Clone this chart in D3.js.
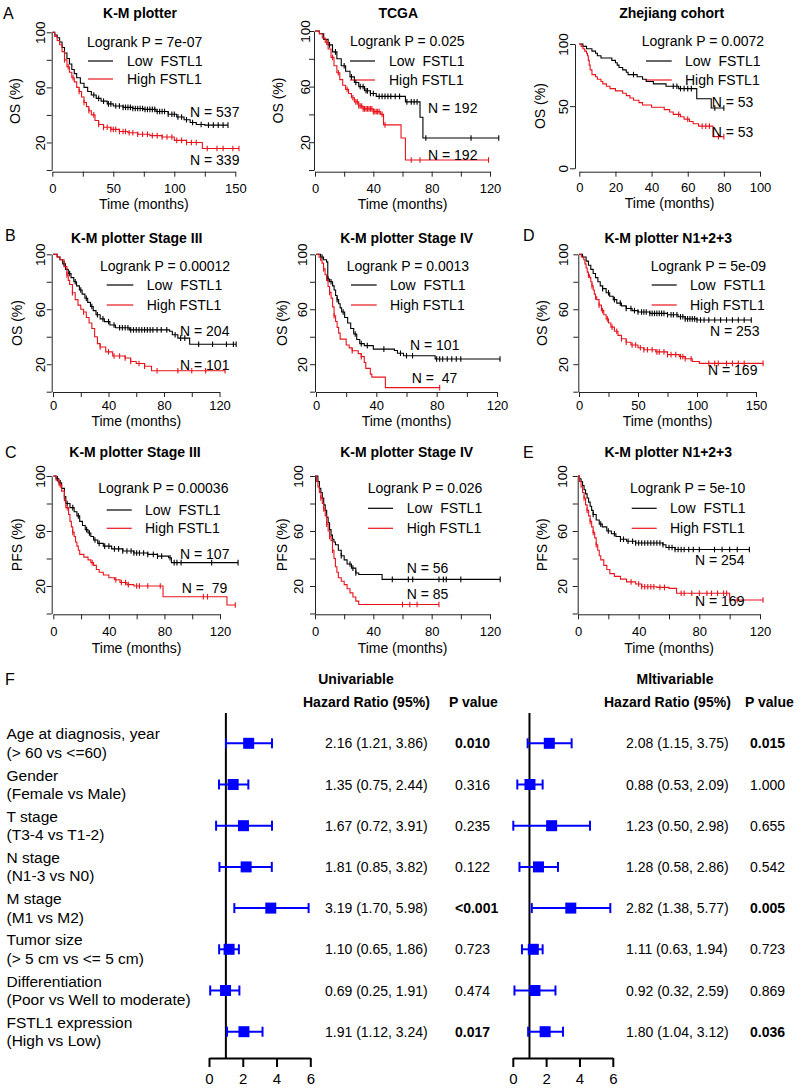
<!DOCTYPE html>
<html><head><meta charset="utf-8">
<script src="https://cdn.jsdelivr.net/npm/d3@7"></script>
<style>
body{margin:0;background:#fff}
text{font-family:"Liberation Sans",Arial,sans-serif;white-space:pre;fill:#000}
</style>
</head><body>
<svg id="c" width="800" height="1090"></svg>
<script>
// ---------- tick labels ----------
const xTicks150 = [0,25,50,75,100,125,150], xLab150 = [0,50,100,150];
const xTicks120 = [0,20,40,60,80,100,120], xLab120 = [0,40,80,120];
const xTicks100 = [0,20,40,60,80,100], xLab100 = [0,20,40,60,80,100];
const yTicks = [0,20,40,60,80,100], yLabs = [20,60,100];
const yTicksZ = [0,50,100], yLabsZ = [0,50,100];

// ---------- KM curves: [time, survival %] steps, and censor times ----------
const a1Low = [[0,100],[2,98],[4,96],[6,93],[8,89],[10,85],[12,81],[14,77],[16,73],[18,70],[20,67],[23,63],[26,60],[29,57],[32,54.5],[36,52],[40,50],[45,48],[50,46.5],[58,45.5],[66,44.7],[75,44],[85,42.5],[95,40.5],[102,38.5],[108,36.5],[113,34.5],[118,33],[125,32.6]];
const a1LowCens = [34,38,42,46,48,52,55,58,60,62,64,66,68,70,72,74,76,78,80,82,84,86,88,90,92,95,98,100,103,106,110,115,122,128,132,136,140,144];
const a1High = [[0,100],[2,97],[4,94],[6,91],[8,86],[10,80],[12,75],[14,71],[16,67],[18,64],[20,60],[22,57],[24,53],[26,49],[28,46],[30,43],[32,40],[35,36],[38,33],[42,31],[48,29.5],[55,28],[62,27],[70,26],[80,25],[90,24],[100,21.5],[110,20],[123,15.6]];
const a1HighCens = [10,13,17,22,26,30,34,38,42,45,48,50,52,55,58,60,63,66,70,74,78,82,86,90,94,98,102,106,110,114,118,127,135,140,148,153];

const a2Low = [[0,100],[3,98],[6,94],[9,90],[12,85],[15,80],[18,75],[21,71],[24,67],[27,63],[30,60],[34,57],[38,55],[42,53],[62,49],[72,38],[74,23]];
const a2LowCens = [10,14,20,25,28,31,33,35,36,38,40,44,46,48,50,52,55,58,63,66,68,70,76,107,126];
const a2High = [[0,100],[3,98],[5,95],[7,92],[9,87],[11,81],[13,75],[15,70],[17,65],[19,61],[21,58],[23,55],[25,52],[27,49],[30,46],[33,44],[40,42],[45,40],[47,32.5],[59,23],[62,7.2]];
const a2HighCens = [8,12,16,22,26,28,29,30,31,32,33,34,35,36,37,38,39,40,41,42,43,44,46,48,66,72,119];

const a3Low = [[0,100],[2,98.1],[4,96.2],[7,94.3],[9,92.5],[10,90.6],[12,88.7],[18,86.8],[20,84.9],[21,83],[22,81.1],[24,79.2],[26,77.3],[27,75.4],[32,73.6],[35,71.7],[37,69.8],[41,67.9],[48,66],[55,64.1],[65,56],[73,48.5]];
const a3LowCens = [30,52,54,56,58,60,62,75,80];
const a3High = [[0,100],[1,98.1],[2,96.2],[3,94.3],[4,92.5],[4.5,90.6],[5,86.8],[5.5,83],[6,79.2],[7,75.4],[9,73.6],[10,71.7],[12,69.8],[13,67.9],[15,66],[17,64.1],[20,62.3],[24,60.4],[26,58.5],[28,56.6],[30,54.7],[33,52.8],[35,50.9],[40,49.1],[47,47.2],[50,45.3],[52,43.4],[56,41.5],[58,39.6],[61,37.7],[63,35.8],[66,33.9],[74,25.5]];
const a3HighCens = [55,60,68,70,72,77,80];

const b1Low = [[0,100],[3,98],[5,96],[7,93],[9,89],[11,86],[13,83],[15,80],[17,77],[19,74],[21,71],[23,68],[25,65],[27,62],[29,59],[31,56],[34,53],[37,51],[41,48.5],[45,46.5],[55,45],[84,44],[86,41.5],[90,39],[98.5,34.5]];
const b1LowCens = [8,12,16,20,24,28,32,36,40,44,48,50,52,54,56,58,60,62,64,66,68,70,72,75,78,82,88,92,95,105,115,125,130,132];
const b1High = [[0,100],[3,98],[5,96],[8,91],[10,85],[11,81],[12,78],[14,72],[16,67],[18,63],[20,60],[22,58],[24,54],[26,50],[28,46],[30,40],[32,35],[34,32.5],[38,29],[43,26],[52,24.5],[56,22],[60,20.5],[66,18.5],[71,15.3]];
const b1HighCens = [10,14,22,34,40,44,48,52,56,62,66,75,90,100,110,124];

const b2Low = [[0,100],[3,98],[5,96],[7,94.5],[7.8,82],[9,80],[11,77],[12,74],[13,70],[14,67],[15,64],[16,61],[17,58],[19,54],[21,50],[23,46],[25,42],[27,38],[29,35],[32,33.5],[38,31],[52,30],[54,28],[58,26.2],[79,23.8]];
const b2LowCens = [4,8,10,14,18,26,30,34,45,56,60,64,80,82,84,87,90,93,96,122];
const b2High = [[0,100],[2,97.9],[3,95.7],[4,93.6],[5,89.4],[6,85.1],[7,80.9],[8,76.6],[9,72.3],[10,68.1],[11,61.7],[12,55.3],[13,51.1],[14,46.8],[15,42.6],[16,38.3],[20,34],[22,31.9],[24,29.8],[28,27.7],[30,25.5],[32,21.3],[33,17],[36,12.8],[37,10.6],[46,3]];
const b2HighCens = [5,9,12,24,30,82];

const dLow = [[0,100],[3,98],[6,95],[8,92],[10,89],[12,86],[14,83],[16,80],[18,77],[20,75],[23,72],[26,69.5],[29,67],[32,64.5],[36,62.5],[40,60.5],[45,59],[50,58],[60,57],[75,56],[84,54.5],[90,53],[100,52.2]];
const dLowCens = [20,25,30,35,40,44,47,50,53,55,57,60,62,64,66,68,70,72,75,78,80,83,86,88,90,92,94,96,98,100,103,106,110,115,120,125,130,135,140,146];
const dHigh = [[0,100],[2,98],[4,96],[5,93],[6,90],[7,87],[8,85],[9,83],[10,80],[11,77],[12,74],[13,71],[14,69],[15,67],[17,63],[19,59],[21,56],[23,53],[25,50],[27,47],[30,44],[33,41],[36,38.5],[40,36],[44,34],[50,32],[55,30.5],[65,29],[75,27],[85,25.5],[90,24],[96,22],[102,20.6]];
const dHighCens = [8,11,14,17,20,24,28,32,36,40,45,48,52,55,58,62,66,68,72,75,78,82,86,88,90,95,110,115,118,125,130,135,140,156];

const c1Low = [[0,100],[2,98],[4,95],[6,91],[8,85],[9,80],[12,77],[15,74],[17,71],[19,67],[21,64],[23,61],[25,58.5],[27,56],[29,53.5],[32,51],[36,49],[42,47],[50,45.5],[58,44],[68,43],[75,41.7],[83,40.5],[85,37]];
const c1LowCens = [3,5,8,10,14,18,24,26,30,33,37,40,44,47,50,53,56,58,60,62,65,68,72,75,78,84,87,89,92,114,133];
const c1High = [[0,100],[2,97],[4,93.5],[6,89],[8,82],[9,77],[11,72],[12,67],[13,63],[14,59],[15,56],[16,52],[17,49],[18,46],[19,43],[22,41],[25,39],[27,37],[29,35],[31,32],[33,30],[36,28],[40,26],[44,24.5],[48,22.5],[53,21],[58,20],[79,12.2],[125,6.2]];
const c1HighCens = [5,10,14,28,45,49,52,54,60,62,68,77,108,111,131];

const c2Low = [[0,100],[2,96],[3,91],[4,88],[5,84],[6,79],[7,75],[8,70],[9,66],[10,61],[11,57],[12,54],[13,52],[14,50],[16,46],[18,42],[20,39],[22,36],[25,33],[28,29.5],[30,28.4],[46,24.8]];
const c2LowCens = [18,24,26,28,53,64,67,85,88,90,100,127];
const c2High = [[0,100],[1,96],[2,92],[3,88],[4,84],[5,80],[6,76],[7,71],[8,65],[9,60],[10,56],[11,53],[12,46],[13,40],[14,34],[15,30],[16,26],[18,23.5],[20,21],[22,18],[24,15],[26,12],[28,9],[30,6.5]];
const c2HighCens = [4,6,8,10,12,60,65,70,85];

const eLow = [[0,100],[1,98],[2,96],[3,93],[4,90],[5,87],[6,84],[7,81],[8,78],[9,75],[10,72],[12,68],[14,65],[16,63],[19,60],[22,58],[25,56],[28,54],[32,52.5],[38,51.3],[56,50],[58,48],[64,46.5]];
const eLowCens = [10,15,20,24,28,30,33,36,38,40,42,44,46,48,50,52,54,56,60,62,64,66,68,70,73,76,80,90,95,100,105,113];
const eHigh = [[0,100],[1,96],[2,92],[3,88],[4,84],[5,79],[6,75],[7,71],[8,67],[9,63],[10,59],[11,55],[12,50],[13,46],[14,42],[15,39],[17,35],[19,32],[21,29],[24,27],[28,25],[32,23],[38,21.5],[42,19.5],[52,19],[60,18.3],[65,14.7],[100,9.8]];
const eHighCens = [4,6,8,10,12,35,40,42,44,46,48,50,54,57,68,70,75,80,85,88,92,96,98,105,122];

// ---------- forest plot ----------
const fRows = ["Age at diagnosis, year","Gender","T stage","N stage","M stage","Tumor size","Differentiation","FSTL1 expression"];
const fSub = ["(> 60 vs <=60)","(Female vs Male)","(T3-4 vs T1-2)","(N1-3 vs N0)","(M1 vs M2)","(> 5 cm vs <= 5 cm)","(Poor vs Well to moderate)","(High vs Low)"];
const uniHR = ["2.16 (1.21, 3.86)","1.35 (0.75, 2.44)","1.67 (0.72, 3.91)","1.81 (0.85, 3.82)","3.19 (1.70, 5.98)","1.10 (0.65, 1.86)","0.69 (0.25, 1.91)","1.91 (1.12, 3.24)"];
const uniP = ["0.010","0.316","0.235","0.122","<0.001","0.723","0.474","0.017"];
const uniSig = [1,0,0,0,1,0,0,1];
const mulHR = ["2.08 (1.15, 3.75)","0.88 (0.53, 2.09)","1.23 (0.50, 2.98)","1.28 (0.58, 2.86)","2.82 (1.38, 5.77)","1.11 (0.63, 1.94)","0.92 (0.32, 2.59)","1.80 (1.04, 3.12)"];
const mulP = ["0.015","1.000","0.655","0.542","0.005","0.723","0.869","0.036"];
const mulSig = [1,0,0,0,1,0,0,1];
// plotted box / whisker positions
const uniPt = [2.35,1.43,2.04,2.2,3.66,1.19,0.98,2.07];
const uniLo = [1.01,0.59,0.42,0.62,1.5,0.6,0.07,1.07];
const uniHi = [3.73,2.33,3.73,3.72,5.9,1.77,1.8,3.17];
const mulPt = [2.19,1.03,2.33,1.54,3.48,1.23,1.33,1.94];
const mulLo = [0.89,0.27,0.03,0.4,1.14,0.55,0.1,0.92];
const mulHi = [3.53,1.79,4.63,2.71,5.85,1.79,2.56,3.01];
const forestTicks = [0,2,4,6];

// ---------- layout ----------
const svg = d3.select("#c");
const RED = "#e8141c";

const panels = [
 {low:a1Low,lowC:a1LowCens,high:a1High,highC:a1HighCens,title:"K-M plotter",letter:"A",ylab:"OS (%)",p:"Logrank P = 7e-07",nL:"N = 537",nH:"N = 339",
  xMax:150,xr:[52.3,235.3],yr:[170,32.3],axX:51.7,axY:171.7,xT:xTicks150,xL:xLab150,yT:yTicks,yL:yLabs,
  tXY:[140,13.3],lXY:[3,13],ylabX:15,ytlX:40,xtlY:189,xlabY:204,pXY:[87,42],legX:[88,113],legY:[61,79],legTX:127,nLXY:[190,111.7],nHXY:[190,160]},
 {low:a2Low,lowC:a2LowCens,high:a2High,highC:a2HighCens,title:"TCGA",ylab:"OS (%)",p:"Logrank P = 0.025",nL:"N = 192",nH:"N = 192",
  xMax:120,xr:[315,490],yr:[170,31],axX:314,axY:171.7,xT:xTicks120,xL:xLab120,yT:yTicks,yL:yLabs,
  tXY:[398.3,13.3],ylabX:278,ytlX:305,xtlY:189,xlabY:204,pXY:[350,41],legX:[350,375],legY:[61,80],legTX:389,nLXY:[428,108],nHXY:[428,155]},
 {low:a3Low,lowC:a3LowCens,high:a3High,highC:a3HighCens,title:"Zhejiang cohort",ylab:"OS (%)",p:"Logrank P = 0.0072",nL:"N = 53",nH:"N = 53",
  xMax:100,xr:[579.3,760],yr:[168.3,44],axX:575,axY:171.7,xT:xTicks100,xL:xLab100,yT:yTicksZ,yL:yLabsZ,
  tXY:[671.7,13.3],ylabX:540,ytlX:563,xtlY:188,xlabY:203,pXY:[641.7,41],legX:[646,671.7],legY:[61,80],legTX:685,nLXY:[711.7,101.7],nHXY:[711.7,131.7]},
 {low:b1Low,lowC:b1LowCens,high:b1High,highC:b1HighCens,title:"K-M plotter Stage III",letter:"B",ylab:"OS (%)",p:"Logrank P = 0.00012",nL:"N = 204",nH:"N = 101",
  xMax:120,xr:[53,219.5],yr:[391.7,254.3],axX:51.7,axY:392,xT:xTicks120,xL:xLab120,yT:yTicks,yL:yLabs,
  tXY:[136.7,238.3],lXY:[5,235],ylabX:17,ytlX:40,xtlY:405.5,xlabY:421,pXY:[100,266],legX:[106.7,133.3],legY:[285,305],legTX:146.7,nLXY:[180,331],nHXY:[180,365]},
 {low:b2Low,lowC:b2LowCens,high:b2High,highC:b2HighCens,title:"K-M plotter Stage IV",ylab:"OS (%)",p:"Logrank P = 0.0013",nL:"N = 101",nH:"N =  47",
  xMax:120,xr:[316,497],yr:[391.7,254.3],axX:315,axY:392,xT:xTicks120,xL:xLab120,yT:yTicks,yL:yLabs,
  tXY:[406.7,238.3],ylabX:282,ytlX:302,xtlY:405.5,xlabY:421,pXY:[346.7,266],legX:[351,376.7],legY:[285,305],legTX:390,nLXY:[410,345],nHXY:[411.7,378]},
 {low:dLow,lowC:dLowCens,high:dHigh,highC:dHighCens,title:"K-M plotter N1+2+3",letter:"D",ylab:"OS (%)",p:"Logrank P = 5e-09",nL:"N = 253",nH:"N = 169",
  xMax:150,xr:[579,756],yr:[391.7,254.3],axX:578.3,axY:392,xT:xTicks150,xL:xLab150,yT:yTicks,yL:yLabs,
  tXY:[668.3,238.3],lXY:[523,235],ylabX:542,ytlX:563,xtlY:405.5,xlabY:421,pXY:[650.7,266],legX:[651.7,676.7],legY:[285,305],legTX:690,nLXY:[710,331],nHXY:[708,370]},
 {low:c1Low,lowC:c1LowCens,high:c1High,highC:c1HighCens,title:"K-M plotter Stage III",letter:"C",ylab:"PFS (%)",p:"Logrank P = 0.00036",nL:"N = 107",nH:"N =  79",
  xMax:120,xr:[53.3,220],yr:[613.5,476],axX:51.7,axY:614.3,xT:xTicks120,xL:xLab120,yT:yTicks,yL:yLabs,
  tXY:[135,452.3],lXY:[5,452],ylabX:17,ytlX:40,xtlY:631.5,xlabY:647.5,pXY:[98.3,488.3],legX:[106.7,131.7],legY:[510,528.3],legTX:145,nLXY:[180,554.3],nHXY:[181.7,587.7]},
 {low:c2Low,lowC:c2LowCens,high:c2High,highC:c2HighCens,title:"K-M plotter Stage IV",ylab:"PFS (%)",p:"Logrank P = 0.026",nL:"N = 56",nH:"N = 85",
  xMax:120,xr:[315,490],yr:[613.5,476],axX:315,axY:614.3,xT:xTicks120,xL:xLab120,yT:yTicks,yL:yLabs,
  tXY:[406.7,452.3],ylabX:282,ytlX:298,xtlY:631.5,xlabY:647.5,pXY:[367.7,488.3],legX:[368,393],legY:[508.3,528.3],legTX:406.7,nLXY:[406.7,568.3],nHXY:[406.7,594]},
 {low:eLow,lowC:eLowCens,high:eHigh,highC:eHighCens,title:"K-M plotter N1+2+3",letter:"E",ylab:"PFS (%)",p:"Logrank P = 5e-10",nL:"N = 254",nH:"N = 169",
  xMax:120,xr:[578,760],yr:[613.5,476],axX:577.7,axY:614.3,xT:xTicks120,xL:xLab120,yT:yTicks,yL:yLabs,
  tXY:[668.3,452.3],lXY:[523,452],ylabX:542,ytlX:562,xtlY:631.5,xlabY:647.5,pXY:[630,488.3],legX:[631.7,656.7],legY:[508.3,528.3],legTX:670,nLXY:[695,560],nHXY:[695,600.7]}
];

function survAt(steps, t){ let s = steps[0][1]; for (const [tt,v] of steps){ if (tt<=t) s=v; } return s; }

function drawKM(p){
  const g = svg.append("g");
  const x = d3.scaleLinear().domain([0,p.xMax]).range(p.xr);
  const y = d3.scaleLinear().domain([0,100]).range(p.yr);
  // y axis
  const ya = g.append("g").attr("transform",`translate(${p.axX},0)`)
    .call(d3.axisLeft(y).tickValues(p.yT).tickSize(5).tickSizeOuter(0).tickFormat(d=>p.yL.includes(d)?d:""));
  ya.select(".domain").attr("stroke","#222");
  ya.selectAll(".tick line").attr("stroke","#222");
  ya.selectAll(".tick text").attr("x",0).attr("dy",null).attr("y",0)
    .attr("transform",`translate(${p.ytlX-p.axX},0) rotate(-90)`)
    .attr("text-anchor","middle").attr("dominant-baseline","central")
    .style("font-size","13.5px").style("font-family","Liberation Sans, Arial, sans-serif");
  // x axis
  const xa = g.append("g").attr("transform",`translate(0,${p.axY})`)
    .call(d3.axisBottom(x).tickValues(p.xT).tickSize(5).tickSizeOuter(0).tickFormat(d=>p.xL.includes(d)?d:""));
  xa.select(".domain").attr("stroke","#222");
  xa.selectAll(".tick line").attr("stroke","#222");
  xa.selectAll(".tick text").attr("y",p.xtlY-p.axY).attr("dy",null).attr("dominant-baseline","central")
    .style("font-size","13px").style("font-family","Liberation Sans, Arial, sans-serif");
  // labels
  g.append("text").attr("x",(p.xr[0]+p.xr[1])/2).attr("y",p.xlabY).attr("text-anchor","middle").attr("dominant-baseline","central").style("font-size","14px").text("Time (months)");
  const ym = (p.yr[0]+p.yr[1])/2;
  g.append("text").attr("transform",`translate(${p.ylabX},${ym}) rotate(-90)`).attr("text-anchor","middle").attr("dominant-baseline","central").style("font-size","14px").text(p.ylab);
  g.append("text").attr("x",p.tXY[0]).attr("y",p.tXY[1]).attr("text-anchor","middle").attr("dominant-baseline","central").style("font-size","14px").style("font-weight","bold").text(p.title);
  if (p.letter) g.append("text").attr("x",p.lXY[0]).attr("y",p.lXY[1]).attr("dominant-baseline","central").style("font-size","16px").text(p.letter);
  // legend
  g.append("text").attr("x",p.pXY[0]).attr("y",p.pXY[1]).attr("dominant-baseline","central").style("font-size","14px").text(p.p);
  [["#000","Low  FSTL1"],[RED,"High FSTL1"]].forEach((d,i)=>{
    g.append("line").attr("x1",p.legX[0]).attr("x2",p.legX[1]).attr("y1",p.legY[i]).attr("y2",p.legY[i]).attr("stroke",d[0]).attr("stroke-width",1.2);
    g.append("text").attr("x",p.legTX).attr("y",p.legY[i]).attr("dominant-baseline","central").style("font-size","14px").text(d[1]);
  });
  // curves
  const line = d3.line().x(d=>x(d[0])).y(d=>y(d[1])).curve(d3.curveStepAfter);
  [[p.low,p.lowC,"#000"],[p.high,p.highC,RED]].forEach(([st,cs,col])=>{
    const end = Math.max(d3.max(cs), st[st.length-1][0]);
    const pts = st.concat([[end, st[st.length-1][1]]]);
    g.append("path").attr("d",line(pts)).attr("fill","none").attr("stroke",col).attr("stroke-width",1.1);
    g.selectAll(null).data(cs).enter().append("line")
      .attr("x1",d=>x(d)).attr("x2",d=>x(d))
      .attr("y1",d=>y(survAt(st,d))-2.8).attr("y2",d=>y(survAt(st,d))+2.8)
      .attr("stroke",col).attr("stroke-width",1.1);
  });
  // N labels
  g.append("text").attr("x",p.nLXY[0]).attr("y",p.nLXY[1]).attr("dominant-baseline","central").style("font-size","14px").text(p.nL);
  g.append("text").attr("x",p.nHXY[0]).attr("y",p.nHXY[1]).attr("dominant-baseline","central").style("font-size","14px").text(p.nH);
}
panels.forEach(drawKM);

// ---------- forest ----------
const fg = svg.append("g");
const fy = d3.scaleLinear().domain([0,fRows.length-1]).range([743.3,1031.7]);
fg.append("text").attr("x",5).attr("y",679).attr("dominant-baseline","central").style("font-size","16px").text("F");
const hdr = [["Univariable",356,679,"middle"],["Hazard Ratio (95%)",303,701.7,"start"],["P value",449,701.7,"start"],
             ["Mltivariable",675,679,"middle"],["Hazard Ratio (95%)",604,701.7,"start"],["P value",745,701.7,"start"]];
hdr.forEach(h=>fg.append("text").attr("x",h[1]).attr("y",h[2]).attr("text-anchor",h[3]).attr("dominant-baseline","central").style("font-size","14px").style("font-weight","bold").text(h[0]));
fRows.forEach((r,i)=>{
  fg.append("text").attr("x",6.5).attr("y",fy(i)-9.5).attr("dominant-baseline","central").style("font-size","15.5px").text(r);
  fg.append("text").attr("x",6.5).attr("y",fy(i)+9).attr("dominant-baseline","central").style("font-size","15.5px").text(fSub[i]);
  fg.append("text").attr("x",325).attr("y",fy(i)).attr("dominant-baseline","central").style("font-size","14px").text(uniHR[i]);
  fg.append("text").attr("x",455).attr("y",fy(i)).attr("dominant-baseline","central").style("font-size","14px").style("font-weight",uniSig[i]?"bold":"normal").text(uniP[i]);
  fg.append("text").attr("x",626).attr("y",fy(i)).attr("dominant-baseline","central").style("font-size","14px").text(mulHR[i]);
  fg.append("text").attr("x",750).attr("y",fy(i)).attr("dominant-baseline","central").style("font-size","14px").style("font-weight",mulSig[i]?"bold":"normal").text(mulP[i]);
});
function forest(range, pt, lo, hi){
  const x = d3.scaleLinear().domain([0,6]).range(range);
  const g = fg.append("g");
  g.append("line").attr("x1",x(1)).attr("x2",x(1)).attr("y1",713).attr("y2",1058).attr("stroke","#000").attr("stroke-width",2);
  const ax = g.append("g").attr("transform","translate(0,1058)")
    .call(d3.axisBottom(x).tickValues(forestTicks).tickSize(9).tickSizeOuter(0).tickFormat(d3.format("d")));
  ax.select(".domain").attr("stroke","#000").attr("stroke-width",2);
  ax.selectAll(".tick line").attr("stroke","#000").attr("stroke-width",2);
  ax.selectAll(".tick text").attr("y",20).attr("dy",null).attr("dominant-baseline","central")
    .style("font-size","15px").style("font-family","Liberation Sans, Arial, sans-serif");
  pt.forEach((v,i)=>{
    const yy = fy(i);
    g.append("line").attr("x1",x(lo[i])).attr("x2",x(hi[i])).attr("y1",yy).attr("y2",yy).attr("stroke","#0000ff").attr("stroke-width",2);
    [lo[i],hi[i]].forEach(e=>g.append("line").attr("x1",x(e)).attr("x2",x(e)).attr("y1",yy-5).attr("y2",yy+5).attr("stroke","#0000ff").attr("stroke-width",2));
    g.append("rect").attr("x",x(v)-5.5).attr("y",yy-5.5).attr("width",11).attr("height",11).attr("fill","#0000ff");
  });
}
forest([209,310.3], uniPt, uniLo, uniHi);
forest([512.8,612.8], mulPt, mulLo, mulHi);
</script>
</body></html>
